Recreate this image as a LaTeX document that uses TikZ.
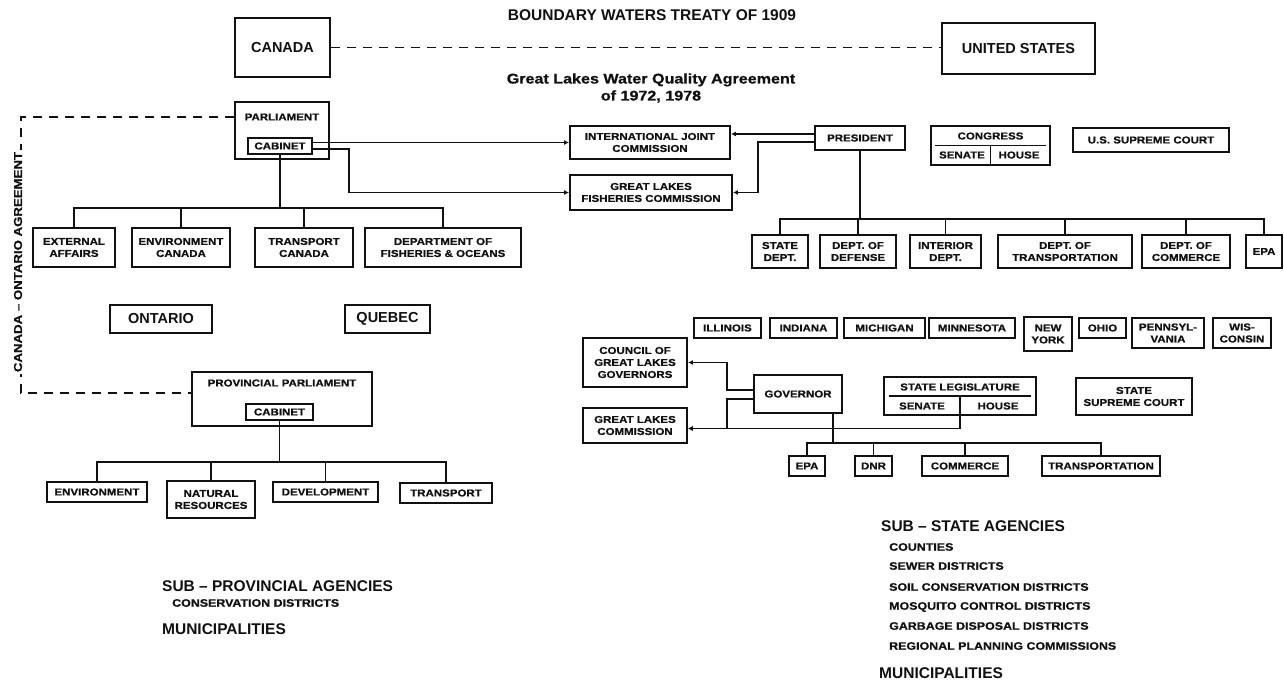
\documentclass[tikz,border=0pt]{standalone}
\usepackage{fontspec}
\setmainfont{Liberation Sans}
\newfontfamily\widefont{Liberation Sans}[FakeStretch=1.15, BoldFeatures={FakeBold=0.8}]
\usepackage{tikz}
\usetikzlibrary{arrows.meta, positioning, calc}
\definecolor{ink}{HTML}{111111}
\tikzset{
  box/.style={rectangle, draw=ink, fill=white, line width=1.9pt, inner sep=1pt,
              align=center, text=ink, font=\widefont\bfseries\fontsize{10}{12}\selectfont},
  bigbox/.style={box, font=\bfseries\fontsize{14.5}{16}\selectfont},
  frame/.style={rectangle, draw=ink, line width=1.9pt, inner sep=0pt},
  lbl/.style={inner sep=0pt, text=ink, font=\widefont\bfseries\fontsize{10}{12}\selectfont},
  title/.style={inner sep=0pt, text=ink, font=\bfseries\fontsize{15.5}{17}\selectfont},
  note/.style={inner sep=0pt, align=center, text=ink,
               font=\widefont\bfseries\fontsize{14}{17}\selectfont},
  head/.style={anchor=west, inner sep=0pt, text=ink, font=\bfseries\fontsize{15.5}{17}\selectfont},
  item/.style={anchor=west, inner sep=0pt, text=ink, font=\widefont\bfseries\fontsize{10.8}{12}\selectfont},
  agree/.style={fill=white, inner sep=2pt, text=ink, font=\widefont\bfseries\fontsize{11.5}{12}\selectfont},
  link/.style={line width=1.7pt, ink},
  arr/.style={link, -{Latex[length=5pt, width=5pt]}},
  treaty/.style={line width=1.8pt, ink, dash pattern=on 9pt off 7pt},
}

\begin{document}
\begin{tikzpicture}[x=1pt, y=-1pt]
  \useasboundingbox[fill=white] (0,0) rectangle (1284,682);
  % treaty level
  \node[title] (bwt) at (652,15) {BOUNDARY WATERS TREATY OF 1909};
  \node[bigbox, minimum width=95, minimum height=59] (canada) at (282.5,47.5) {CANADA};
  \node[bigbox, minimum width=153, minimum height=51] (usa) at (1018.5,48.5) {UNITED STATES};
  \draw[treaty] (canada.east) -- (canada.east -| usa.west);
  \node[note] (glwqa) at (651,88) {Great Lakes Water Quality Agreement\\of 1972, 1978};

  % canada
  \node[frame, minimum width=94, minimum height=57] (parl) at (282,130.5) {};
  \node[lbl] at (282,117) {PARLIAMENT};
  \node[box, line width=1.5pt, minimum width=64, minimum height=16] (cab) at (280,146) {CABINET};
  \node[box, minimum width=160, minimum height=33] (ijc) at (650,142.5) {INTERNATIONAL JOINT\\COMMISSION};
  \node[box, minimum width=162, minimum height=35] (glfc) at (651,192.5) {GREAT LAKES\\FISHERIES COMMISSION};
  \draw[arr] (cab.east |- ijc.west) -- (ijc.west);
  \draw[arr] ([yshift=-3pt]cab.east) -- ++(36,0) |- (glfc.west);
  \node[box, minimum width=82, minimum height=39] (extaff) at (74,247.5) {EXTERNAL\\AFFAIRS};
  \node[box, minimum width=98, minimum height=39] (envcan) at (181,247.5) {ENVIRONMENT\\CANADA};
  \node[box, minimum width=98, minimum height=39] (trancan) at (304,247.5) {TRANSPORT\\CANADA};
  \node[box, minimum width=156, minimum height=39] (dfo) at (443,247.5) {DEPARTMENT OF\\FISHERIES \& OCEANS};
  \draw[link] (cab.south) -- ++(0,53) -| (extaff.north);
  \draw[link] (cab.south) -- ++(0,53) -| (envcan.north);
  \draw[link] (cab.south) -- ++(0,53) -| (trancan.north);
  \draw[link] (cab.south) -- ++(0,53) -| (dfo.north);
  \node[bigbox, minimum width=102, minimum height=28] (ont) at (161,319) {ONTARIO};
  \node[bigbox, minimum width=85, minimum height=28] (que) at (387.5,319) {QUEBEC};

  % ontario
  \node[frame, minimum width=180, minimum height=54] (prov) at (282,399) {};
  \node[lbl] at (282,383) {PROVINCIAL PARLIAMENT};
  \node[box, line width=1.5pt, minimum width=67, minimum height=16] (pcab) at (279.5,412) {CABINET};
  \draw[treaty] ([yshift=13.5pt]parl.west) -- ++(-213,0) |- ([yshift=6pt]prov.west);
  \node[agree, rotate=90] at (18,262) {CANADA – ONTARIO AGREEMENT};
  \node[box, minimum width=100, minimum height=20] (penv) at (97,492) {ENVIRONMENT};
  \node[box, minimum width=88, minimum height=37] (pnat) at (211,499.5) {NATURAL\\RESOURCES};
  \node[box, minimum width=105, minimum height=20] (pdev) at (325.5,492) {DEVELOPMENT};
  \node[box, minimum width=92, minimum height=20] (ptrans) at (446,493) {TRANSPORT};
  \draw[link] (pcab.south) -- ++(0,41) -| (penv.north);
  \draw[link] (pcab.south) -- ++(0,41) -| (pnat.north);
  \draw[link] (pcab.south) -- ++(0,41) -| (pdev.north);
  \draw[link] (pcab.south) -- ++(0,41) -| (ptrans.north);
  \node[head] (subprov) at (162,586) {SUB – PROVINCIAL AGENCIES};
  \node[item] (consdist) at (172,603) {CONSERVATION DISTRICTS};
  \node[head] (pmuni) at (162,629) {MUNICIPALITIES};

  % united states
  \node[box, minimum width=90, minimum height=24] (pres) at (860,138) {PRESIDENT};
  \draw[arr] ([yshift=4pt]pres.west) -- ([yshift=4pt]pres.west -| ijc.east);
  \draw[arr] ([yshift=-4pt]pres.west) -- ++(-56,0) |- (glfc.east);
  \node[frame, minimum width=119, minimum height=39] (cong) at (990.5,145.5) {};
  \node[lbl] at (990.5,136) {CONGRESS};
  \draw[link, line width=1.4pt] ([xshift=5pt]cong.west) -- ([xshift=-5pt]cong.east);
  \draw[link, line width=1.4pt] (cong.center) -- (cong.south);
  \node[lbl] at (962,155) {SENATE};
  \node[lbl] at (1019,155) {HOUSE};
  \node[box, minimum width=156, minimum height=24] (ussc) at (1151,140) {U.S. SUPREME COURT};
  \node[box, minimum width=56, minimum height=33] (statedept) at (780,251.5) {STATE\\DEPT.};
  \node[box, minimum width=76, minimum height=33] (defdept) at (858,251.5) {DEPT. OF\\DEFENSE};
  \node[box, minimum width=71, minimum height=33] (intdept) at (945.5,251.5) {INTERIOR\\DEPT.};
  \node[box, minimum width=134, minimum height=33] (trdept) at (1065,251.5) {DEPT. OF\\TRANSPORTATION};
  \node[box, minimum width=88, minimum height=33] (comdept) at (1186,251.5) {DEPT. OF\\COMMERCE};
  \node[box, minimum width=36, minimum height=33] (usepa) at (1264,251.5) {EPA};
  \draw[link] (pres.south) -- ++(0,68) -| (statedept.north);
  \draw[link] (pres.south) -- ++(0,68) -| (defdept.north);
  \draw[link] (pres.south) -- ++(0,68) -| (intdept.north);
  \draw[link] (pres.south) -- ++(0,68) -| (trdept.north);
  \draw[link] (pres.south) -- ++(0,68) -| (comdept.north);
  \draw[link] (pres.south) -- ++(0,68) -| (usepa.north);

  % states
  \node[box, minimum width=67, minimum height=20] (ill) at (727.5,328) {ILLINOIS};
  \node[box, minimum width=67, minimum height=20] (ind) at (803.5,328) {INDIANA};
  \node[box, minimum width=81, minimum height=20] (mich) at (884.5,328) {MICHIGAN};
  \node[box, minimum width=86, minimum height=20] (minn) at (972,328) {MINNESOTA};
  \node[box, minimum width=48, minimum height=34] (ny) at (1048,334) {NEW\\YORK};
  \node[box, minimum width=47, minimum height=20] (ohio) at (1102.5,328) {OHIO};
  \node[box, minimum width=72, minimum height=30] (penn) at (1168,333) {PENNSYL-\\VANIA};
  \node[box, minimum width=58, minimum height=30] (wis) at (1242,333) {WIS-\\CONSIN};
  \node[box, minimum width=104, minimum height=49] (cglg) at (635,362.5) {COUNCIL OF\\GREAT LAKES\\GOVERNORS};
  \node[box, minimum width=104, minimum height=35] (glc) at (635,425.5) {GREAT LAKES\\COMMISSION};
  \node[box, minimum width=88, minimum height=38] (gov) at (798,394) {GOVERNOR};
  \node[frame, minimum width=152, minimum height=38] (stleg) at (960,396) {};
  \node[lbl] at (960,387) {STATE LEGISLATURE};
  \draw[link, line width=1.4pt] ([xshift=6pt]stleg.west) -- ([xshift=-6pt]stleg.east);
  \draw[link, line width=1.4pt] (stleg.center) -- (stleg.south);
  \node[lbl] at (922,406) {SENATE};
  \node[lbl] at (998,406) {HOUSE};
  \node[box, minimum width=116, minimum height=37] (stsc) at (1134,396.5) {STATE\\SUPREME COURT};
  \draw[arr] ([yshift=4pt]gov.west) -- ++(-26,0) |- (cglg.east);
  \draw[arr] ([yshift=-5pt]gov.west) -- ++(-26,0) |- ([yshift=-3pt]glc.east);
  \draw[arr] (stleg.south) |- ([yshift=-3pt]glc.east);
  \node[box, minimum width=36, minimum height=20] (sepa) at (807,466) {EPA};
  \node[box, minimum width=37, minimum height=20] (dnr) at (873.5,466) {DNR};
  \node[box, minimum width=86, minimum height=20] (scom) at (965,466) {COMMERCE};
  \node[box, minimum width=118, minimum height=20] (strans) at (1101,466) {TRANSPORTATION};
  \draw[link] ([xshift=35pt]gov.south) -- ++(0,29) -| (sepa.north);
  \draw[link] ([xshift=35pt]gov.south) -- ++(0,29) -| (dnr.north);
  \draw[link] ([xshift=35pt]gov.south) -- ++(0,29) -| (scom.north);
  \draw[link] ([xshift=35pt]gov.south) -- ++(0,29) -| (strans.north);

  % sub-state agencies
  \node[head] (substate) at (881,526) {SUB – STATE AGENCIES};
  \node[item] (counties) at (889,547) {COUNTIES};
  \node[item] (sewer) at (889,566) {SEWER DISTRICTS};
  \node[item] (soil) at (889,587) {SOIL CONSERVATION DISTRICTS};
  \node[item] (mosq) at (889,607) {MOSQUITO CONTROL DISTRICTS};
  \node[item] (garb) at (889,626) {GARBAGE DISPOSAL DISTRICTS};
  \node[item] (regional) at (889,646) {REGIONAL PLANNING COMMISSIONS};
  \node[head] (smuni) at (879,673) {MUNICIPALITIES};
\end{tikzpicture}
\end{document}
